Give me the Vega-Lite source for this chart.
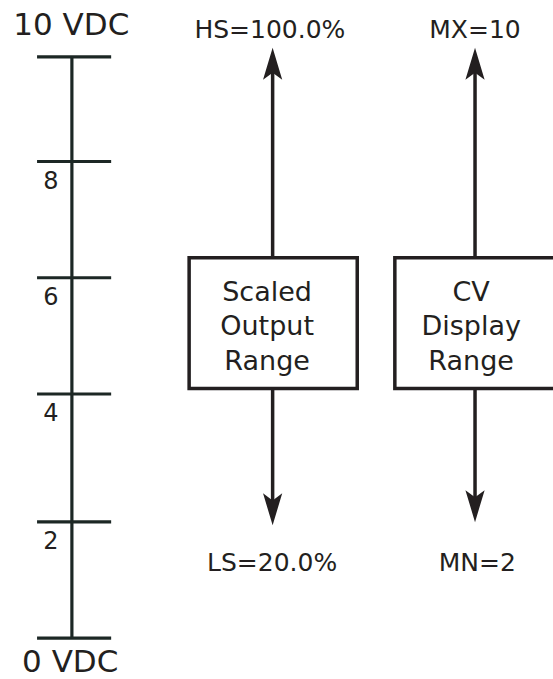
{
  "$schema": "https://vega.github.io/schema/vega-lite/v6.json",
  "width": 553,
  "height": 679,
  "autosize": {"type": "fit", "contains": "padding"},
  "padding": 0,
  "background": "white",
  "config": {"view": {"stroke": null}},
  "datasets": {
    "axis": [{"x": 13.0, "y": 0, "y2": 10}],
    "ticks": [
      {"x": 6.7, "x2": 20.1, "lx": 9.2, "y": 10, "label": ""},
      {"x": 6.7, "x2": 20.1, "lx": 9.2, "y": 8.2, "label": "8"},
      {"x": 6.7, "x2": 20.1, "lx": 9.2, "y": 6.2, "label": "6"},
      {"x": 6.7, "x2": 20.1, "lx": 9.2, "y": 4.2, "label": "4"},
      {"x": 6.7, "x2": 20.1, "lx": 9.2, "y": 2.0, "label": "2"},
      {"x": 6.7, "x2": 20.1, "lx": 9.2, "y": 0, "label": ""}
    ],
    "ends": [
      {"x": 12.9, "y": 10.53, "label": "10 VDC"},
      {"x": 12.7, "y": -0.43, "label": "0 VDC"}
    ],
    "boxes": [
      {"name": "Scaled Output Range", "x": 34.2, "x2": 64.6, "y": 4.296, "y2": 6.546, "tx": 48.3, "ty": 5.945, "text": "Scaled|Output|Range"},
      {"name": "CV Display Range", "x": 71.4, "x2": 103, "y": 4.296, "y2": 6.546, "tx": 85.2, "ty": 5.945, "text": "CV|Display|Range"}
    ],
    "stems": [
      {"x": 49.3, "y": 6.546, "y2": 9.8},
      {"x": 49.3, "y": 4.296, "y2": 2.35},
      {"x": 85.9, "y": 6.546, "y2": 9.8},
      {"x": 85.9, "y": 4.296, "y2": 2.35}
    ],
    "heads_up": [
      {"x": 49.3, "y": 9.88},
      {"x": 85.9, "y": 9.88}
    ],
    "heads_down": [
      {"x": 49.3, "y": 2.216},
      {"x": 85.9, "y": 2.27}
    ],
    "limits": [
      {"x": 48.8, "y": 10.464, "label": "HS=100.0%"},
      {"x": 85.9, "y": 10.464, "label": "MX=10"},
      {"x": 49.2, "y": 1.289, "label": "LS=20.0%"},
      {"x": 86.3, "y": 1.289, "label": "MN=2"}
    ]
  },
  "layer": [
    {
      "data": {"name": "axis"},
      "mark": {"type": "rule", "stroke": "#1c2725", "strokeWidth": 3.2},
      "encoding": {
        "x": {"field": "x", "type": "quantitative", "scale": {"domain": [0, 100], "nice": false, "zero": false}, "axis": null},
        "y": {"field": "y", "type": "quantitative", "scale": {"domain": [-0.687, 10.979], "nice": false, "zero": false}, "axis": null},
        "y2": {"field": "y2"}
      }
    },
    {
      "data": {"name": "ticks"},
      "mark": {"type": "rule", "stroke": "#1c2725", "strokeWidth": 3.2},
      "encoding": {
        "x": {"field": "x", "type": "quantitative"},
        "x2": {"field": "x2"},
        "y": {"field": "y", "type": "quantitative"}
      }
    },
    {
      "data": {"name": "ticks"},
      "mark": {"type": "text", "font": "DejaVu Sans", "fontSize": 24, "color": "#231f20", "baseline": "middle", "align": "center", "dy": 20},
      "encoding": {
        "x": {"field": "lx", "type": "quantitative"},
        "y": {"field": "y", "type": "quantitative"},
        "text": {"field": "label"}
      }
    },
    {
      "data": {"name": "ends"},
      "mark": {"type": "text", "font": "DejaVu Sans", "fontSize": 31, "color": "#231f20", "baseline": "middle", "align": "center"},
      "encoding": {
        "x": {"field": "x", "type": "quantitative"},
        "y": {"field": "y", "type": "quantitative"},
        "text": {"field": "label"}
      }
    },
    {
      "data": {"name": "stems"},
      "mark": {"type": "rule", "stroke": "#231f20", "strokeWidth": 3.5},
      "encoding": {
        "x": {"field": "x", "type": "quantitative"},
        "y": {"field": "y", "type": "quantitative"},
        "y2": {"field": "y2"}
      }
    },
    {
      "data": {"name": "heads_up"},
      "mark": {"type": "point", "filled": true, "opacity": 1, "color": "#231f20", "size": 1024, "shape": "M0,-1L0.6,1L0,0.55L-0.6,1Z"},
      "encoding": {
        "x": {"field": "x", "type": "quantitative"},
        "y": {"field": "y", "type": "quantitative"}
      }
    },
    {
      "data": {"name": "heads_down"},
      "mark": {"type": "point", "filled": true, "opacity": 1, "color": "#231f20", "size": 1024, "shape": "M0,1L0.6,-1L0,-0.55L-0.6,-1Z"},
      "encoding": {
        "x": {"field": "x", "type": "quantitative"},
        "y": {"field": "y", "type": "quantitative"}
      }
    },
    {
      "data": {"name": "boxes"},
      "mark": {"type": "rect", "fill": "white", "stroke": "#231f20", "strokeWidth": 3.5, "clip": true},
      "encoding": {
        "x": {"field": "x", "type": "quantitative"},
        "x2": {"field": "x2"},
        "y": {"field": "y", "type": "quantitative"},
        "y2": {"field": "y2"}
      }
    },
    {
      "data": {"name": "boxes"},
      "mark": {"type": "text", "font": "DejaVu Sans", "fontSize": 27, "color": "#231f20", "baseline": "middle", "align": "center", "lineBreak": "|", "lineHeight": 34.5},
      "encoding": {
        "x": {"field": "tx", "type": "quantitative"},
        "y": {"field": "ty", "type": "quantitative"},
        "text": {"field": "text"}
      }
    },
    {
      "data": {"name": "limits"},
      "mark": {"type": "text", "font": "DejaVu Sans", "fontSize": 25, "color": "#231f20", "baseline": "middle", "align": "center"},
      "encoding": {
        "x": {"field": "x", "type": "quantitative"},
        "y": {"field": "y", "type": "quantitative"},
        "text": {"field": "label"}
      }
    }
  ]
}
